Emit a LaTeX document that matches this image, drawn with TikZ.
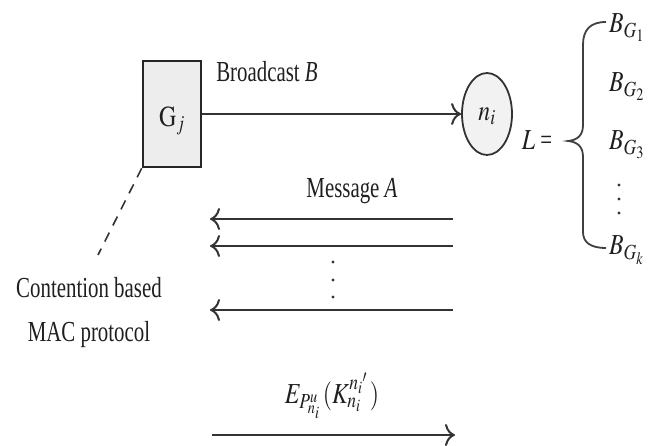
\documentclass[tikz,border=0pt]{standalone}
\usepackage{graphicx}
\usepackage{mathptmx}
\usepackage{fontspec}
\setmainfont[FakeStretch=0.72]{Liberation Serif}
\usetikzlibrary{arrows.meta,shapes.geometric}
\newcommand{\mth}[1]{\scalebox{0.82}[1]{$#1$}}
\begin{document}
\begin{tikzpicture}[x=1pt,y=-1pt,
  lbl/.style={inner sep=0pt, text=black!88, font=\fontsize{29}{34}\selectfont},
  ln/.style={line width=2pt, draw=black!80},
  arr/.style={ln, -{To[length=10pt,width=22pt]}},
  dotmark/.style={fill=black!80},
]
\useasboundingbox (0,0) rectangle (657,446);
% nodes
\node[draw=black!85, line width=2.6pt, fill=black!7, minimum width=58pt, minimum height=106pt, inner sep=0pt] (G) at (172,114) {};
\node[lbl] (Gl) at (172,121) {\mth{\mathrm{G}_j}};
\node[draw=black!80, line width=1.8pt, ellipse, fill=black!5, minimum width=50pt, minimum height=82pt, inner sep=0pt] (n) at (487,114) {};
\node[lbl] (nl) at (487,116) {\mth{n_i}};
\node[lbl, anchor=base] (bc) at (267,82) {Broadcast \textit{B}};
\node[lbl] (L) at (537,140) {\mth{L} =};
\node[lbl, anchor=base west] (b1) at (609,33) {\mth{B_{G_1}}};
\node[lbl, anchor=base west] (b2) at (609,92) {\mth{B_{G_2}}};
\node[lbl, anchor=base west] (b3) at (609,150) {\mth{B_{G_3}}};
\node[lbl, anchor=base west] (bk) at (609,255) {\mth{B_{G_k}}};
\node[lbl, anchor=base] (msg) at (352,198) {Message \textit{A}};
\node[lbl, align=center, font=\fontsize{29}{44}\selectfont] (mac) at (89,313) {Contention based\\MAC protocol};
\node[lbl, anchor=base] (E) at (332,404) {\mth{E_{P^{u}_{n_i}}\,(K^{n_i{}'}_{n_i}\,)}};
% coordinates
\coordinate (macend) at (98,255);
\coordinate (a1s) at (453,219); \coordinate (a1e) at (210,219);
\coordinate (a2s) at (453,246); \coordinate (a2e) at (210,246);
\coordinate (a3s) at (453,310); \coordinate (a3e) at (210,310);
\coordinate (a4s) at (212,435); \coordinate (a4e) at (455,435);
% connectors
\draw[arr] (G.east) -- (n.west);
\draw[ln, line width=1.6pt, dash pattern=on 10pt off 8pt] (G.south west) -- (macend);
\draw[arr] (a1s) -- (a1e);
\draw[arr] (a2s) -- (a2e);
\draw[arr] (a3s) -- (a3e);
\draw[arr] (a4s) -- (a4e);
% dots
\foreach \y in {262,280,297} \fill[dotmark] (333,\y) circle (1.7pt);
\foreach \y in {185,199,213} \fill[dotmark] (619,\y) circle (1.7pt);
% brace
\draw[line width=1.8pt, draw=black!75]
  (606,22) .. controls (590,22) and (583,30) .. (583,45) -- (583,125)
  .. controls (583,135) and (578,140) .. (568,141)
  .. controls (578,142) and (583,147) .. (583,157) -- (583,232)
  .. controls (583,242) and (590,248) .. (606,248);
\end{tikzpicture}
\end{document}
